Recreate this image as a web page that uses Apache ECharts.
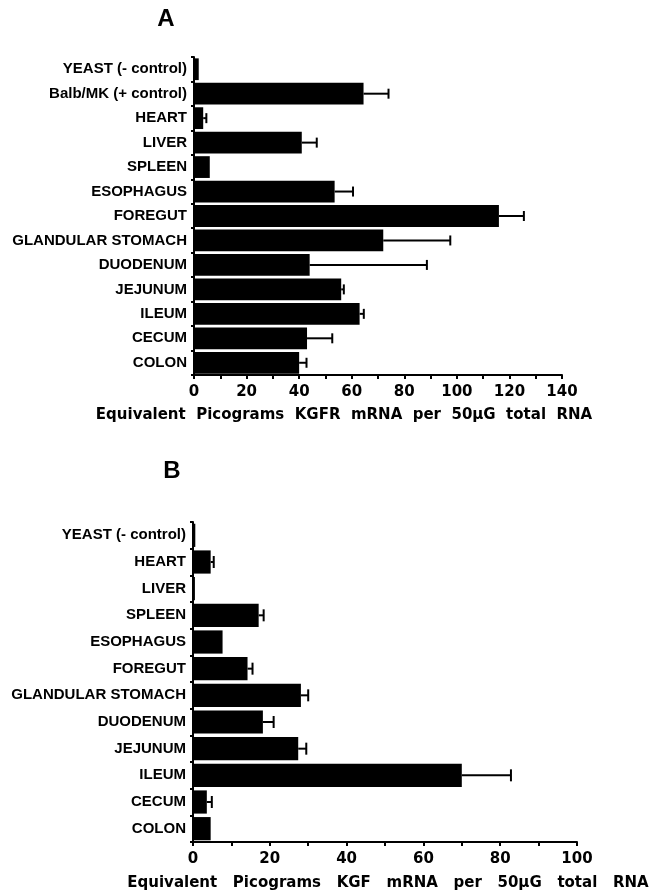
<!DOCTYPE html>
<html>
<head>
<meta charset="utf-8">
<script src="https://cdn.jsdelivr.net/npm/echarts@6/dist/echarts.min.js"></script>
<style>html,body{margin:0;padding:0;background:#fff}#c{width:650px;height:894px}</style>
</head>
<body>
<div id="c"></div>
<script>
// ---- Data ----
const catsA = ['YEAST (- control)','Balb/MK (+ control)','HEART','LIVER','SPLEEN','ESOPHAGUS','FOREGUT','GLANDULAR STOMACH','DUODENUM','JEJUNUM','ILEUM','CECUM','COLON'];
const valsA = [1.8, 64.5, 3.5, 41, 6, 53.5, 116, 72, 44, 56, 63, 43, 40];
const errA  = [0, 9.5, 1.2, 5.7, 0, 7, 9.5, 25.5, 44.6, 1, 1.6, 9.6, 2.8];

const catsB = ['YEAST (- control)','HEART','LIVER','SPLEEN','ESOPHAGUS','FOREGUT','GLANDULAR STOMACH','DUODENUM','JEJUNUM','ILEUM','CECUM','COLON'];
const valsB = [0.6, 4.6, 0.5, 17.1, 7.7, 14.2, 28.1, 18.2, 27.4, 70, 3.6, 4.6];
const errB  = [0, 0.8, 0, 1.3, 0, 1.3, 1.9, 2.8, 2.1, 12.8, 1.3, 0];

const ticksA = [0, 20, 40, 60, 80, 100, 120, 140];
const ticksB = [0, 20, 40, 60, 80, 100];

const titleA = 'A';
const titleB = 'B';
const axisNameA = 'Equivalent  Picograms  KGFR  mRNA  per  50\u00b5G  total  RNA';
const axisNameB = 'Equivalent   Picograms   KGF   mRNA   per   50\u00b5G   total   RNA';

// ---- Chart ----
const chart = echarts.init(document.getElementById('c'), null, {renderer: 'canvas'});

function errRender(capHalf) {
  return function (params, api) {
    const cat = api.value(0), v = api.value(1), e = api.value(2);
    if (!(e > 0)) return;
    const p0 = api.coord([v, cat]);
    const p1 = api.coord([v + e, cat]);
    const st = {stroke: '#000', lineWidth: 2};
    return {
      type: 'group',
      children: [
        {type: 'line', shape: {x1: p0[0], y1: p0[1], x2: p1[0], y2: p1[1]}, style: st},
        {type: 'line', shape: {x1: p1[0], y1: p1[1] - capHalf, x2: p1[0], y2: p1[1] + capHalf}, style: st}
      ]
    };
  };
}

function xAxisCfg(gi, ticks) {
  return {
    type: 'value', gridIndex: gi, min: ticks[0], max: ticks[ticks.length - 1], interval: ticks[1] - ticks[0],
    axisLine: {show: true, lineStyle: {color: '#000', width: 2}},
    axisTick: {show: true, length: 4, lineStyle: {color: '#000', width: 2}},
    minorTick: {show: true, splitNumber: 2, length: 4, lineStyle: {color: '#000', width: 2}},
    splitLine: {show: false},
    axisLabel: {color: '#000', fontFamily: 'DejaVu Sans', fontWeight: 'bold', fontSize: 15, margin: 10}
  };
}
function yAxisCfg(gi, cats) {
  return {
    type: 'category', gridIndex: gi, data: cats, inverse: true,
    axisLine: {show: true, lineStyle: {color: '#000', width: 2}},
    axisTick: {show: true, length: 3, alignWithLabel: false, lineStyle: {color: '#000', width: 2}},
    axisLabel: {color: '#000', fontFamily: 'Liberation Sans', fontWeight: 'bold', fontSize: 15, margin: 7}
  };
}

const option = {
  backgroundColor: '#fff',
  animation: false,
  grid: [
    {left: 194, top: 57, width: 368, height: 318},
    {left: 193, top: 522, width: 384, height: 320}
  ],
  xAxis: [xAxisCfg(0, ticksA), xAxisCfg(1, ticksB)],
  yAxis: [yAxisCfg(0, catsA), yAxisCfg(1, catsB)],
  series: [
    {type: 'bar', xAxisIndex: 0, yAxisIndex: 0, data: valsA, barCategoryGap: '11%', itemStyle: {color: '#000'}, silent: true},
    {type: 'custom', xAxisIndex: 0, yAxisIndex: 0, renderItem: errRender(5), encode: {x: 1, y: 0},
      data: valsA.map((v, i) => [i, v, errA[i]]), z: 3, silent: true},
    {type: 'bar', xAxisIndex: 1, yAxisIndex: 1, data: valsB, barCategoryGap: '13%', itemStyle: {color: '#000'}, silent: true},
    {type: 'custom', xAxisIndex: 1, yAxisIndex: 1, renderItem: errRender(6), encode: {x: 1, y: 0},
      data: valsB.map((v, i) => [i, v, errB[i]]), z: 3, silent: true}
  ],
  graphic: [
    {type: 'text', x: 166, y: 19, style: {text: titleA, fill: '#000', font: 'bold 24px "Liberation Sans"', align: 'center', verticalAlign: 'middle', textAlign: 'center', textVerticalAlign: 'middle'}},
    {type: 'text', x: 172, y: 471, style: {text: titleB, fill: '#000', font: 'bold 24px "Liberation Sans"', align: 'center', verticalAlign: 'middle', textAlign: 'center', textVerticalAlign: 'middle'}},
    {type: 'text', x: 344, y: 415, style: {text: axisNameA, fill: '#000', font: 'bold 15px "DejaVu Sans"', align: 'center', verticalAlign: 'middle', textAlign: 'center', textVerticalAlign: 'middle'}},
    {type: 'text', x: 388, y: 883, style: {text: axisNameB, fill: '#000', font: 'bold 15px "DejaVu Sans"', align: 'center', verticalAlign: 'middle', textAlign: 'center', textVerticalAlign: 'middle'}}
  ]
};
chart.setOption(option);
</script>
</body>
</html>
